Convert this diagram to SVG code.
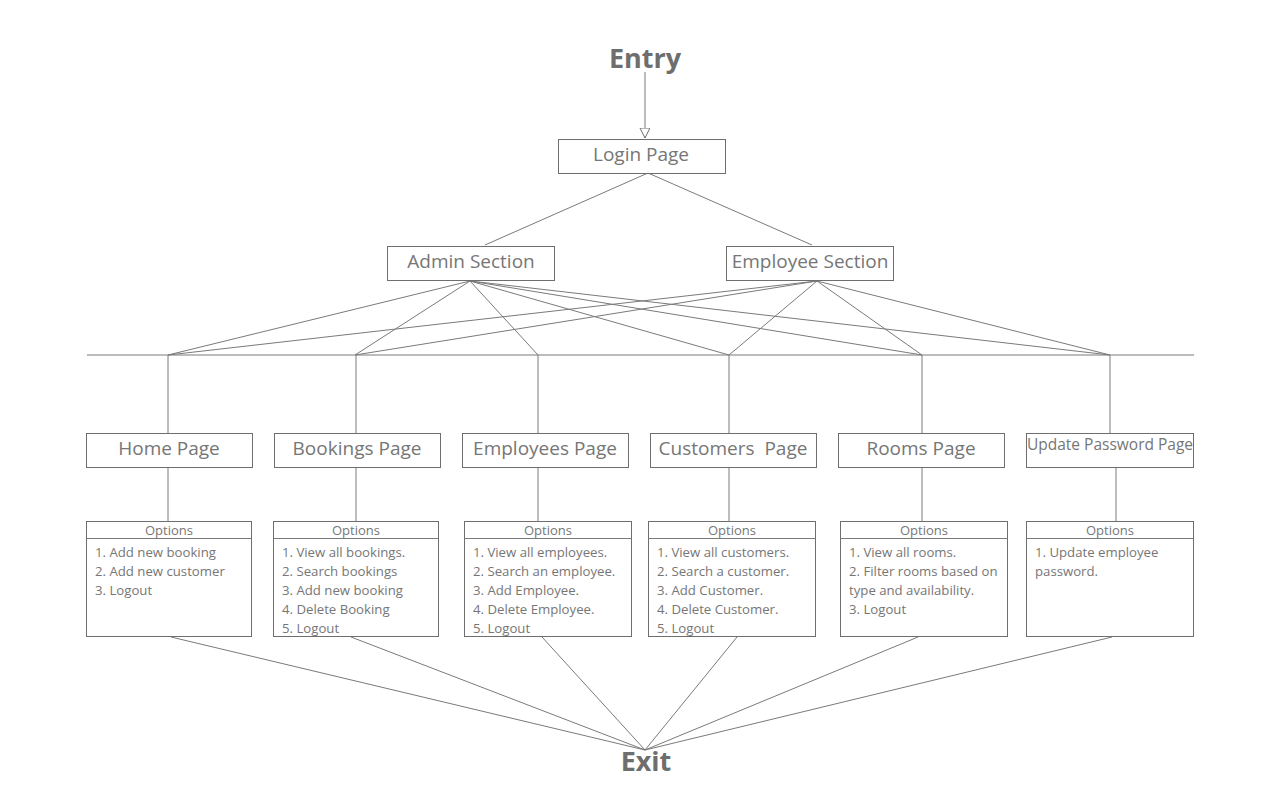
<svg xmlns="http://www.w3.org/2000/svg" width="1280" height="800" viewBox="0 0 1280 800">
<defs>
<style>
text{font-family:"Open Sans","Noto Sans","Liberation Sans",sans-serif;fill:#767676}
.t{font-size:19px;text-anchor:middle}
.big{font-size:27px;font-weight:bold;text-anchor:middle;fill:#6e6e6e}
.hd{font-size:13px;text-anchor:middle}
.it{font-size:13.2px}
.box{fill:#fff;stroke:#6e6e6e;stroke-width:1}
.ln{stroke:#7a7a7a;stroke-width:1;fill:none}
</style>
<marker id="tri" markerWidth="12" markerHeight="12" refX="10" refY="5" orient="auto" markerUnits="userSpaceOnUse">
<path d="M0,0 L10,5 L0,10 Z" fill="#fff" stroke="#6e6e6e" stroke-width="1"/>
</marker>
</defs>
<rect width="1280" height="800" fill="#fff"/>

<g id="connectors">
<line class="ln" x1="645" y1="72" x2="645" y2="138" marker-end="url(#tri)"/>
<line class="ln" x1="648" y1="173" x2="485" y2="245"/>
<line class="ln" x1="648" y1="173" x2="812" y2="245"/>
<line class="ln" x1="87" y1="355" x2="1194" y2="355"/>
<line class="ln" x1="470" y1="281" x2="168" y2="355"/>
<line class="ln" x1="470" y1="281" x2="355" y2="355"/>
<line class="ln" x1="470" y1="281" x2="538" y2="355"/>
<line class="ln" x1="470" y1="281" x2="729" y2="355"/>
<line class="ln" x1="470" y1="281" x2="922" y2="355"/>
<line class="ln" x1="470" y1="281" x2="1110" y2="355"/>
<line class="ln" x1="817" y1="281" x2="168" y2="355"/>
<line class="ln" x1="817" y1="281" x2="355" y2="355"/>
<line class="ln" x1="817" y1="281" x2="729" y2="355"/>
<line class="ln" x1="817" y1="281" x2="922" y2="355"/>
<line class="ln" x1="817" y1="281" x2="1110" y2="355"/>
<line class="ln" x1="168" y1="355" x2="168" y2="433"/>
<line class="ln" x1="356" y1="355" x2="356" y2="433"/>
<line class="ln" x1="538" y1="355" x2="538" y2="433"/>
<line class="ln" x1="729" y1="355" x2="729" y2="433"/>
<line class="ln" x1="922" y1="355" x2="922" y2="433"/>
<line class="ln" x1="1110" y1="355" x2="1110" y2="433"/>
<line class="ln" x1="168" y1="467" x2="168" y2="521"/>
<line class="ln" x1="356" y1="467" x2="356" y2="521"/>
<line class="ln" x1="538" y1="467" x2="538" y2="521"/>
<line class="ln" x1="729" y1="467" x2="729" y2="521"/>
<line class="ln" x1="922" y1="467" x2="922" y2="521"/>
<line class="ln" x1="1116" y1="467" x2="1116" y2="521"/>
<line class="ln" x1="171" y1="637" x2="645" y2="750"/>
<line class="ln" x1="351" y1="637" x2="645" y2="750"/>
<line class="ln" x1="542" y1="637" x2="645" y2="750"/>
<line class="ln" x1="737" y1="637" x2="645" y2="750"/>
<line class="ln" x1="918" y1="637" x2="645" y2="750"/>
<line class="ln" x1="1112" y1="637" x2="645" y2="750"/>
</g>

<g id="entry"><text class="big" x="645" y="68">Entry</text></g>
<g id="exit"><text class="big" x="646" y="771">Exit</text></g>

<g id="login"><rect class="box" x="558.5" y="139.5" width="167" height="34"/><text class="t" x="641" y="161">Login Page</text></g>
<g id="admin"><rect class="box" x="387.5" y="246.5" width="167" height="34"/><text class="t" x="471" y="268">Admin Section</text></g>
<g id="employee"><rect class="box" x="726.5" y="246.5" width="167" height="34"/><text class="t" x="810" y="268">Employee Section</text></g>

<g id="home"><rect class="box" x="86.5" y="433.5" width="166" height="34"/><text class="t" x="169" y="455">Home Page</text></g>
<g id="bookings"><rect class="box" x="274.5" y="433.5" width="166" height="34"/><text class="t" x="357" y="455">Bookings Page</text></g>
<g id="employees"><rect class="box" x="462.5" y="433.5" width="166" height="34"/><text class="t" x="545" y="455">Employees Page</text></g>
<g id="customers"><rect class="box" x="650.5" y="433.5" width="166" height="34"/><text class="t" x="733" y="455" xml:space="preserve">Customers  Page</text></g>
<g id="rooms"><rect class="box" x="838.5" y="433.5" width="166" height="34"/><text class="t" x="921" y="455">Rooms Page</text></g>
<g id="updatepw"><rect class="box" x="1026.5" y="433.5" width="167" height="34"/><text class="t" x="1110" y="450" style="font-size:15.5px">Update Password Page</text></g>

<g id="opt-home"><rect class="box" x="86.5" y="521.5" width="165" height="115"/><line class="ln" x1="86.5" y1="538.5" x2="251.5" y2="538.5"/><text class="hd" x="169" y="535">Options</text>
<text class="it" x="95" y="557">1. Add new booking</text><text class="it" x="95" y="576">2. Add new customer</text><text class="it" x="95" y="595">3. Logout</text></g>

<g id="opt-bookings"><rect class="box" x="273.5" y="521.5" width="165" height="115"/><line class="ln" x1="273.5" y1="538.5" x2="438.5" y2="538.5"/><text class="hd" x="356" y="535">Options</text>
<text class="it" x="282" y="557">1. View all bookings.</text><text class="it" x="282" y="576">2. Search bookings</text><text class="it" x="282" y="595">3. Add new booking</text><text class="it" x="282" y="614">4. Delete Booking</text><text class="it" x="282" y="633">5. Logout</text></g>

<g id="opt-employees"><rect class="box" x="464.5" y="521.5" width="167" height="115"/><line class="ln" x1="464.5" y1="538.5" x2="631.5" y2="538.5"/><text class="hd" x="548" y="535">Options</text>
<text class="it" x="473" y="557">1. View all employees.</text><text class="it" x="473" y="576">2. Search an employee.</text><text class="it" x="473" y="595">3. Add Employee.</text><text class="it" x="473" y="614">4. Delete Employee.</text><text class="it" x="473" y="633">5. Logout</text></g>

<g id="opt-customers"><rect class="box" x="648.5" y="521.5" width="167" height="115"/><line class="ln" x1="648.5" y1="538.5" x2="815.5" y2="538.5"/><text class="hd" x="732" y="535">Options</text>
<text class="it" x="657" y="557">1. View all customers.</text><text class="it" x="657" y="576">2. Search a customer.</text><text class="it" x="657" y="595">3. Add Customer.</text><text class="it" x="657" y="614">4. Delete Customer.</text><text class="it" x="657" y="633">5. Logout</text></g>

<g id="opt-rooms"><rect class="box" x="840.5" y="521.5" width="167" height="115"/><line class="ln" x1="840.5" y1="538.5" x2="1007.5" y2="538.5"/><text class="hd" x="924" y="535">Options</text>
<text class="it" x="849" y="557">1. View all rooms.</text><text class="it" x="849" y="576">2. Filter rooms based on</text><text class="it" x="849" y="595">type and availability.</text><text class="it" x="849" y="614">3. Logout</text></g>

<g id="opt-updatepw"><rect class="box" x="1026.5" y="521.5" width="167" height="115"/><line class="ln" x1="1026.5" y1="538.5" x2="1193.5" y2="538.5"/><text class="hd" x="1110" y="535">Options</text>
<text class="it" x="1035" y="557">1. Update employee</text><text class="it" x="1035" y="576">password.</text></g>
</svg>
